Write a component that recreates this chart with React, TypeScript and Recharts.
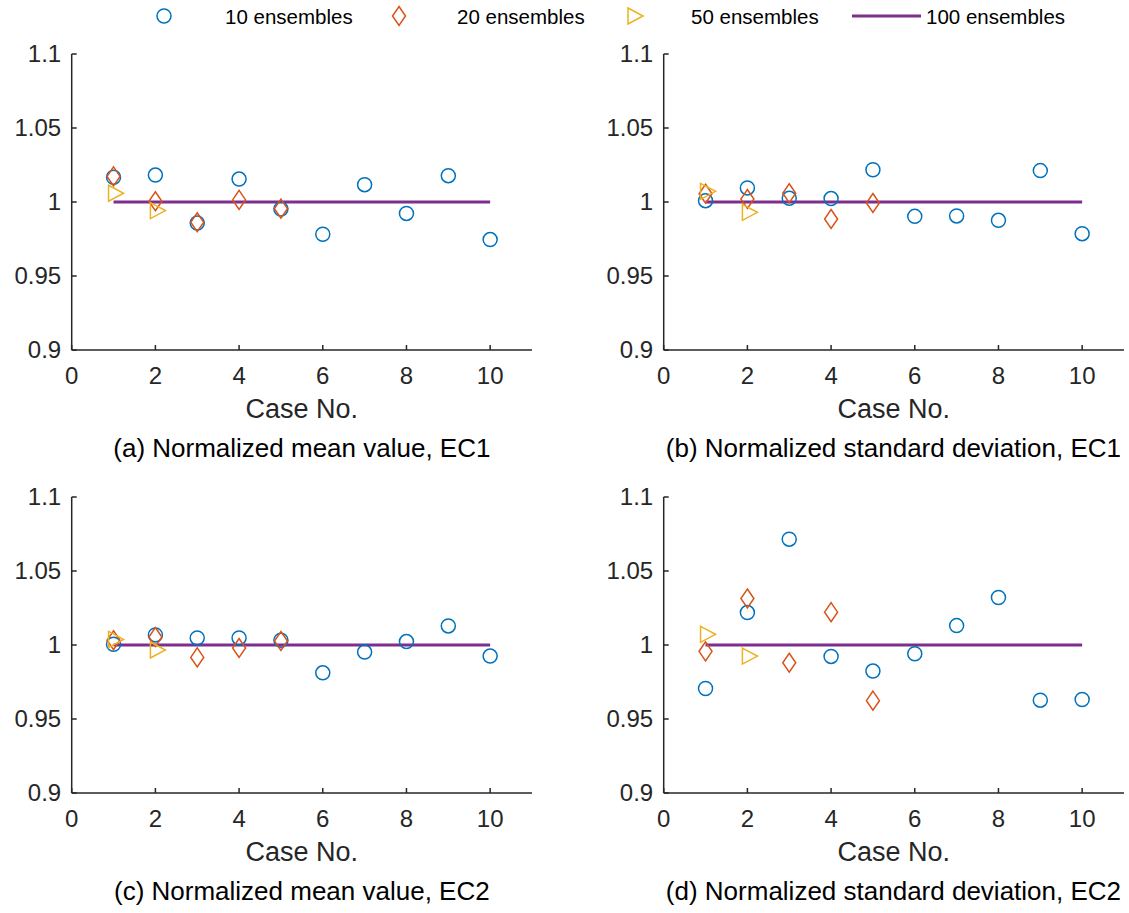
import React from 'react'
import {
  ComposedChart,
  Scatter,
  Line,
  XAxis,
  YAxis,
  Label,
} from 'recharts'

// case numbers on the x axis
const cases = [1, 2, 3, 4, 5, 6, 7, 8, 9, 10]
const xTicks = [0, 2, 4, 6, 8, 10]
const yTicks = [0.9, 0.95, 1, 1.05, 1.1]

// (a) normalized mean value, EC1
const meanEC1_10 = [1.0167, 1.0182, 0.9858, 1.0155, 0.9953, 0.9782, 1.0117, 0.9923, 1.0178, 0.9746]
const meanEC1_20 = [1.0173, 1.0005, 0.9863, 1.0014, 0.9955]
const meanEC1_50 = [1.0059, 0.9942]

// (b) normalized standard deviation, EC1
const stdEC1_10 = [1.0009, 1.0095, 1.0025, 1.0023, 1.0218, 0.9903, 0.9906, 0.9876, 1.0212, 0.9786]
const stdEC1_20 = [1.0056, 1.002, 1.0059, 0.9885, 0.9993]
const stdEC1_50 = [1.0072, 0.993]

// (c) normalized mean value, EC2
const meanEC2_10 = [1.0005, 1.0068, 1.0048, 1.0048, 1.0032, 0.9812, 0.9952, 1.0023, 1.0129, 0.9925]
const meanEC2_20 = [1.0032, 1.0054, 0.9916, 0.998, 1.0027]
const meanEC2_50 = [1.0038, 0.9966]

// (d) normalized standard deviation, EC2
const stdEC2_10 = [0.9706, 1.0219, 1.0715, 0.9923, 0.9824, 0.9941, 1.0131, 1.0321, 0.9627, 0.9632]
const stdEC2_20 = [0.9957, 1.0314, 0.988, 1.0222, 0.9624]
const stdEC2_50 = [1.0072, 0.9925]

// 100 ensembles is the reference (normalized to 1)
const ref100 = [1, 1, 1, 1, 1, 1, 1, 1, 1, 1]

const BLUE = '#0072BD'
const ORANGE = '#D95319'
const YELLOW = '#EDB120'
const PURPLE = '#7E2F8E'
const AX = '#262626'
const FONT = '"Liberation Sans", Arial, Helvetica, sans-serif'

const toPts = (vals: number[]) => vals.map((v, i) => ({ case: cases[i], v }))

const CircleShape = (p: any) => (
  <circle cx={p.cx} cy={p.cy} r={7} fill="none" stroke={BLUE} strokeWidth={1.5} />
)
const DiamondShape = (p: any) => (
  <polygon
    points={`${p.cx},${p.cy - 9.5} ${p.cx + 6.5},${p.cy} ${p.cx},${p.cy + 9.5} ${p.cx - 6.5},${p.cy}`}
    fill="none"
    stroke={ORANGE}
    strokeWidth={1.5}
  />
)
const TriShape = (p: any) => (
  <polygon
    points={`${p.cx - 5},${p.cy - 8} ${p.cx + 10},${p.cy} ${p.cx - 5},${p.cy + 8}`}
    fill="none"
    stroke={YELLOW}
    strokeWidth={1.5}
  />
)

const BottomTick = ({ x, y, payload }: any) => (
  <g>
    <line x1={x} y1={y} x2={x} y2={y - 5} stroke={AX} strokeWidth={1.5} />
    <text x={x} y={y + 34} textAnchor="middle" fontSize={24} fill={AX} fontFamily={FONT}>
      {payload.value}
    </text>
  </g>
)
const TopTick = ({ x, y }: any) => (
  <line x1={x} y1={y} x2={x} y2={y + 5} stroke={AX} strokeWidth={1.5} />
)
const LeftTick = ({ x, y, payload }: any) => (
  <g>
    <line x1={x} y1={y} x2={x + 5} y2={y} stroke={AX} strokeWidth={1.5} />
    <text x={x - 10.5} y={y + 8.3} textAnchor="end" fontSize={24} fill={AX} fontFamily={FONT}>
      {payload.value}
    </text>
  </g>
)
const RightTick = ({ x, y }: any) => (
  <line x1={x} y1={y} x2={x - 5} y2={y} stroke={AX} strokeWidth={1.5} />
)

interface PanelProps {
  left: number
  top: number
  caption: string
  s10: number[]
  s20: number[]
  s50: number[]
}

function Panel({ left, top, caption, s10, s20, s50 }: PanelProps) {
  const axisLine = { stroke: AX, strokeWidth: 1.5 }
  return (
    <div style={{ position: 'absolute', left, top, width: 560, height: 470 }}>
      <ComposedChart width={560} height={432} margin={{ top: 54, right: 28, left: 0, bottom: 12 }}>
        <XAxis
          xAxisId="b"
          dataKey="case"
          type="number"
          domain={[0, 11]}
          ticks={xTicks}
          height={70}
          tickSize={0}
          tickMargin={0}
          tickLine={false}
          axisLine={axisLine}
          tick={<BottomTick />}
          allowDataOverflow
        >
          <Label
            value="Case No."
            position="insideBottom"
            offset={2}
            style={{ fontSize: 27, fill: AX, fontFamily: FONT }}
          />
        </XAxis>
        <XAxis
          xAxisId="t"
          orientation="top"
          type="number"
          domain={[0, 11]}
          ticks={xTicks}
          height={0}
          tickSize={0}
          tickMargin={0}
          tickLine={false}
          axisLine={axisLine}
          tick={<TopTick />}
          allowDataOverflow
        />
        <YAxis
          yAxisId="l"
          type="number"
          domain={[0.9, 1.1]}
          ticks={yTicks}
          width={71.7}
          tickSize={0}
          tickMargin={0}
          tickLine={false}
          axisLine={axisLine}
          tick={<LeftTick />}
          allowDataOverflow
        />
        <YAxis
          yAxisId="r"
          orientation="right"
          type="number"
          domain={[0.9, 1.1]}
          ticks={yTicks}
          width={0}
          tickSize={0}
          tickMargin={0}
          tickLine={false}
          axisLine={axisLine}
          tick={<RightTick />}
          allowDataOverflow
        />
        <Scatter
          name="10 ensembles"
          xAxisId="b"
          yAxisId="l"
          data={toPts(s10)}
          dataKey="v"
          shape={CircleShape}
          isAnimationActive={false}
        />
        <Scatter
          name="20 ensembles"
          xAxisId="b"
          yAxisId="l"
          data={toPts(s20)}
          dataKey="v"
          shape={DiamondShape}
          isAnimationActive={false}
        />
        <Scatter
          name="50 ensembles"
          xAxisId="b"
          yAxisId="l"
          data={toPts(s50)}
          dataKey="v"
          shape={TriShape}
          isAnimationActive={false}
        />
        <Line
          name="100 ensembles"
          xAxisId="b"
          yAxisId="l"
          data={toPts(ref100)}
          dataKey="v"
          stroke={PURPLE}
          strokeWidth={3}
          dot={false}
          activeDot={false}
          isAnimationActive={false}
        />
      </ComposedChart>
      <div
        style={{
          position: 'absolute',
          left: 0,
          width: 603.7,
          top: 435,
          textAlign: 'center',
          fontSize: 26,
          lineHeight: '26px',
          fontFamily: FONT,
          color: '#000',
          whiteSpace: 'nowrap',
        }}
      >
        {caption}
      </div>
    </div>
  )
}

function TopLegend() {
  const txt = { fontSize: 20.5, fill: '#000', fontFamily: FONT }
  return (
    <svg width={1129} height={34} style={{ position: 'absolute', left: 0, top: 0 }}>
      <circle cx={164} cy={16} r={7} fill="none" stroke={BLUE} strokeWidth={1.5} />
      <text x={225} y={24} {...txt}>10 ensembles</text>
      <polygon points="399,6.5 405.5,16 399,25.5 392.5,16" fill="none" stroke={ORANGE} strokeWidth={1.5} />
      <text x={457} y={24} {...txt}>20 ensembles</text>
      <polygon points="628,8 643,16 628,24" fill="none" stroke={YELLOW} strokeWidth={1.5} />
      <text x={691} y={24} {...txt}>50 ensembles</text>
      <line x1={852} y1={16} x2={921} y2={16} stroke={PURPLE} strokeWidth={3} />
      <text x={926} y={24} {...txt}>100 ensembles</text>
    </svg>
  )
}

export default function App() {
  return (
    <div
      style={{
        position: 'absolute',
        left: 0,
        top: 0,
        width: 1129,
        height: 913,
        background: '#fff',
        fontFamily: FONT,
      }}
    >
      <TopLegend />
      <Panel left={0} top={0} caption="(a) Normalized mean value, EC1" s10={meanEC1_10} s20={meanEC1_20} s50={meanEC1_50} />
      <Panel left={591.6} top={0} caption="(b) Normalized standard deviation, EC1" s10={stdEC1_10} s20={stdEC1_20} s50={stdEC1_50} />
      <Panel left={0} top={443.3} caption="(c) Normalized mean value, EC2" s10={meanEC2_10} s20={meanEC2_20} s50={meanEC2_50} />
      <Panel left={591.6} top={443.3} caption="(d) Normalized standard deviation, EC2" s10={stdEC2_10} s20={stdEC2_20} s50={stdEC2_50} />
    </div>
  )
}
